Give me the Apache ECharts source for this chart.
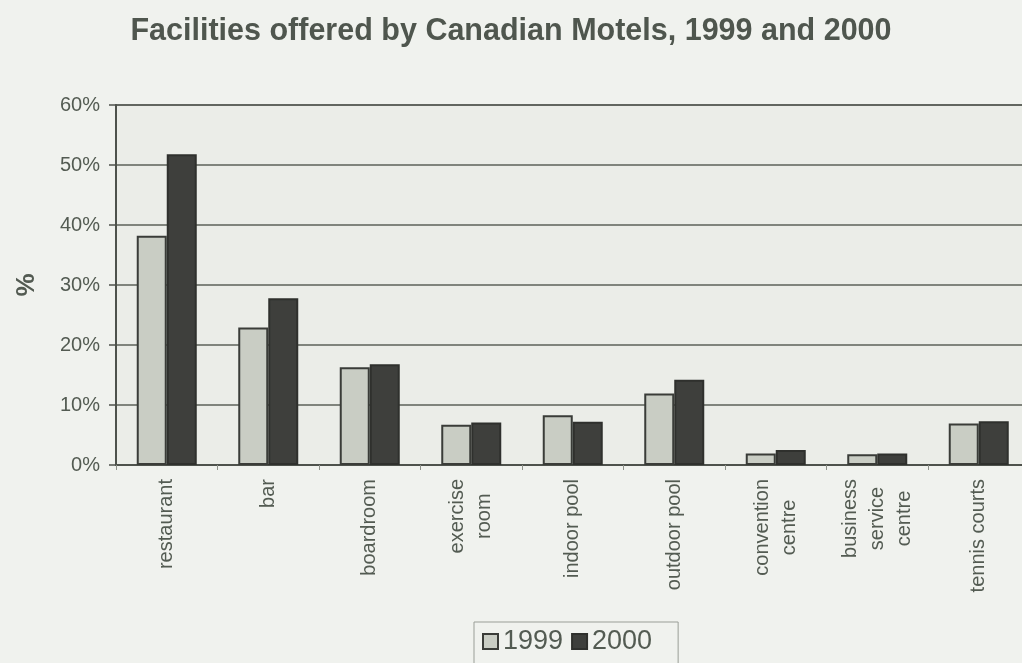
<!DOCTYPE html>
<html>
<head>
<meta charset="utf-8">
<title>Facilities offered by Canadian Motels, 1999 and 2000</title>
<script src="https://cdn.jsdelivr.net/npm/echarts@6/dist/echarts.min.js"></script>
<style>
  html, body { margin: 0; padding: 0; background: #f0f2ee; }
  #chart { width: 1022px; height: 663px; }
</style>
</head>
<body>
<div id="chart"></div>
<script>
// Facility names (line breaks as printed under the axis)
const categories = [
  'restaurant',
  'bar',
  'boardroom',
  'exercise\nroom',
  'indoor pool',
  'outdoor pool',
  'convention\ncentre',
  'business\nservice\ncentre',
  'tennis courts'
];

// Share of motels offering each facility (%)
const values1999 = [38.2, 22.9, 16.3, 6.7, 8.3, 11.9, 1.9, 1.8, 6.9];
const values2000 = [51.8, 27.8, 16.8, 7.1, 7.2, 14.2, 2.5, 1.9, 7.3];

const yTicks = [0, 10, 20, 30, 40, 50, 60];

const textColor = '#535b52';
const fontFamily = 'Liberation Sans, Arial, sans-serif';

const chart = echarts.init(document.getElementById('chart'), null, { renderer: 'canvas' });

chart.setOption({
  backgroundColor: '#f0f2ee',
  animation: false,
  title: {
    text: 'Facilities offered by Canadian Motels, 1999 and 2000',
    left: 'center',
    top: 11,
    textStyle: { fontFamily, fontSize: 30.5, fontWeight: 'bold', color: '#4f564e' }
  },
  legend: {
    data: ['1999', '2000'],
    left: 474,
    top: 622,
    padding: [6, 26, 12, 8],
    itemGap: 8,
    itemWidth: 15,
    itemHeight: 15,
    icon: 'rect',
    borderColor: '#9a9e97',
    borderWidth: 1,
    textStyle: { fontFamily, fontSize: 27, color: textColor }
  },
  grid: {
    left: 116,
    top: 105,
    width: 913.5,
    bottom: 198,
    outerBoundsMode: 'none',
    containLabel: false,
    show: true,
    backgroundColor: '#ebede8',
    borderColor: '#4e524c',
    borderWidth: 1.5
  },
  xAxis: {
    type: 'category',
    data: categories,
    axisLine: { lineStyle: { color: '#4e524c', width: 2 } },
    axisTick: { show: true, length: 5, lineStyle: { color: '#8d918a' } },
    axisLabel: {
      rotate: 90,
      margin: 14,
      interval: 0,
      fontFamily,
      fontSize: 20,
      lineHeight: 27,
      color: textColor,
      formatter: v => v.split('\n').map(s => '{c|' + s + '}').join('\n'),
      rich: {
        c: { align: 'center', fontFamily, fontSize: 20, lineHeight: 27, color: textColor }
      }
    }
  },
  yAxis: {
    type: 'value',
    min: yTicks[0],
    max: yTicks[yTicks.length - 1],
    interval: 10,
    name: '%',
    nameLocation: 'middle',
    nameRotate: 90,
    nameGap: 76,
    nameTextStyle: { fontFamily, fontSize: 26, fontWeight: 'bold', color: textColor },
    axisLine: { show: true, lineStyle: { color: '#4e524c', width: 2 } },
    axisTick: { show: true, length: 7, lineStyle: { color: '#4e524c', width: 1.5 } },
    axisLabel: {
      margin: 16,
      fontFamily,
      fontSize: 20,
      color: textColor,
      formatter: v => v + '%'
    },
    splitLine: { show: true, lineStyle: { color: '#5d615a', width: 1.5 } }
  },
  series: [
    {
      name: '1999',
      type: 'bar',
      data: values1999,
      barWidth: 30,
      barGap: '0%',
      itemStyle: { color: '#c9cdc4', borderColor: '#3a3c38', borderWidth: 2 }
    },
    {
      name: '2000',
      type: 'bar',
      data: values2000,
      barWidth: 30,
      itemStyle: { color: '#3e3f3c', borderColor: '#2f302d', borderWidth: 2 }
    }
  ]
});
</script>
</body>
</html>
